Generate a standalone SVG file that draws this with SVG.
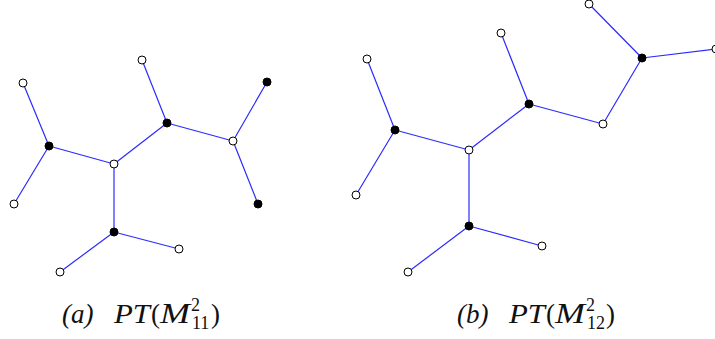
<svg xmlns="http://www.w3.org/2000/svg" width="715" height="339" viewBox="0 0 715 339">
<style>
.e{stroke:#2b2bff;stroke-width:1.2;fill:none}
.w{fill:#fff;stroke:#000;stroke-width:1}
.b{fill:#000;stroke:#000;stroke-width:1}
.t{font-family:"Liberation Serif","Times New Roman",serif;font-size:27px;fill:#111}
.i{font-style:italic}
.u{font-style:normal}
.m{font-style:italic;font-size:29px}
.s{font-style:normal;font-size:18px}
</style>
<rect width="715" height="339" fill="#fff"/>
<g id="connectors">
<path class="e" d="M114,164L49,146M114,164L114,232M114,164L167,123M49,146L23,83M49,146L14,204M114,232L60,272M114,232L179,249M167,123L142,60M167,123L233,141M233,141L267,82M233,141L258,204"/>
<path class="e" d="M469,150L395,130M469,150L469,226M469,150L529,104M395,130L367,59M395,130L356,195M469,226L408,272M469,226L542,246M529,104L501,33M529,104L603,124M603,124L642,58M642,58L589,4M642,58L716,49"/>
</g>
<g id="a-nodes">
<circle id="a1" class="w" cx="114" cy="164" r="4"/>
<circle id="a2" class="b" cx="49" cy="146" r="4"/>
<circle id="a3" class="b" cx="114" cy="232" r="4"/>
<circle id="a4" class="b" cx="167" cy="123" r="4"/>
<circle id="a5" class="w" cx="23" cy="83" r="4"/>
<circle id="a6" class="w" cx="14" cy="204" r="4"/>
<circle id="a7" class="w" cx="60" cy="272" r="4"/>
<circle id="a8" class="w" cx="179" cy="249" r="4"/>
<circle id="a9" class="w" cx="142" cy="60" r="4"/>
<circle id="a10" class="w" cx="233" cy="141" r="4"/>
<circle id="a11" class="b" cx="267" cy="82" r="4"/>
<circle id="a12" class="b" cx="258" cy="204" r="4"/>
</g>
<g id="b-nodes">
<circle id="b1" class="w" cx="469" cy="150" r="4"/>
<circle id="b2" class="b" cx="395" cy="130" r="4"/>
<circle id="b3" class="b" cx="469" cy="226" r="4"/>
<circle id="b4" class="b" cx="529" cy="104" r="4"/>
<circle id="b5" class="w" cx="367" cy="59" r="4"/>
<circle id="b6" class="w" cx="356" cy="195" r="4"/>
<circle id="b7" class="w" cx="408" cy="272" r="4"/>
<circle id="b8" class="w" cx="542" cy="246" r="4"/>
<circle id="b9" class="w" cx="501" cy="33" r="4"/>
<circle id="b10" class="w" cx="603" cy="124" r="4"/>
<circle id="b11" class="b" cx="642" cy="58" r="4"/>
<circle id="b12" class="w" cx="589" cy="4" r="4"/>
<circle id="b13" class="w" cx="716" cy="49" r="4"/>
</g>
<g id="label-a">
<text class="t i" x="62" y="323">(a)</text>
<text class="t i" x="114" y="323" textLength="36" lengthAdjust="spacingAndGlyphs">PT</text>
<text class="t u" x="151" y="323">(</text>
<text class="t m" x="160" y="323" textLength="30" lengthAdjust="spacingAndGlyphs">M</text>
<text class="t s" x="191" y="311">2</text>
<text class="t s" x="192" y="329">11</text>
<text class="t u" x="211" y="323">)</text>
</g>
<g id="label-b">
<text class="t i" x="457" y="323">(b)</text>
<text class="t i" x="509" y="323" textLength="36" lengthAdjust="spacingAndGlyphs">PT</text>
<text class="t u" x="546" y="323">(</text>
<text class="t m" x="555" y="323" textLength="30" lengthAdjust="spacingAndGlyphs">M</text>
<text class="t s" x="586" y="311">2</text>
<text class="t s" x="587" y="329">12</text>
<text class="t u" x="606" y="323">)</text>
</g>
</svg>
